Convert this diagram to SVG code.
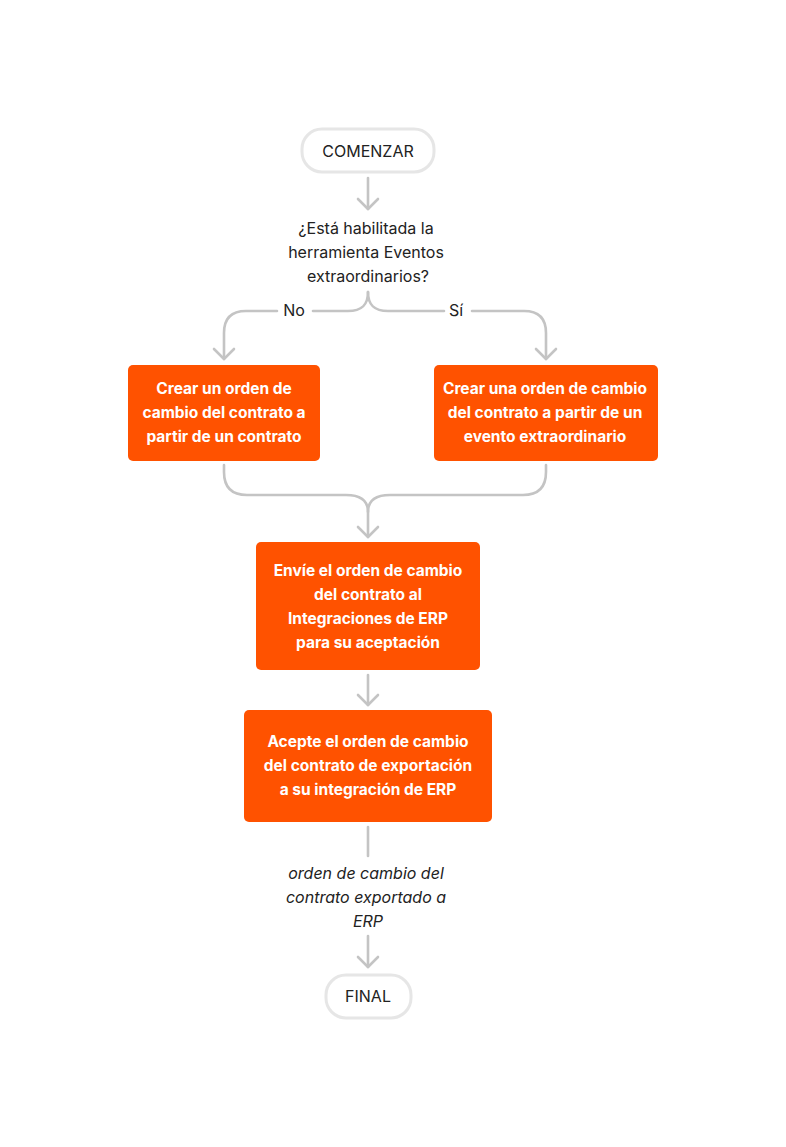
<svg xmlns="http://www.w3.org/2000/svg" width="786" height="1147" viewBox="0 0 786 1147">
<style>
  .term{fill:#ffffff;stroke:#e6e6e6;stroke-width:3}
  .proc{fill:#ff5200}
  .t{font-family:Inter,"Liberation Sans",sans-serif;font-size:16px;fill:#222222;text-anchor:middle}
  .w{font-family:Inter,"Liberation Sans",sans-serif;font-size:15.5px;font-weight:700;fill:#ffffff;text-anchor:middle}
  .i{font-style:italic}
  .c{fill:none;stroke:#c4c4c4;stroke-width:2.6;stroke-linecap:round}
</style>
<defs>
  <marker id="arr" markerUnits="userSpaceOnUse" markerWidth="24" markerHeight="24" viewBox="-12 -12 24 24" refX="0" refY="0" orient="auto">
    <path d="M-10,-10 L0,0 L-10,10" fill="none" stroke="#c4c4c4" stroke-width="2.6" stroke-linecap="round" stroke-linejoin="round"/>
  </marker>
</defs>
<rect width="786" height="1147" fill="#ffffff"/>
<g id="connectors">
  <path class="c" d="M368,178 L368,209" marker-end="url(#arr)"/>
  <path class="c" d="M368,292 C368,305 362,311 348,311 L313,311"/>
  <path class="c" d="M277,311 L246,311 Q224,311 224,333 L224,359" marker-end="url(#arr)"/>
  <path class="c" d="M368,292 C368,305 374,311 388,311 L444,311"/>
  <path class="c" d="M472,311 L524,311 Q546,311 546,333 L546,359" marker-end="url(#arr)"/>
  <path class="c" d="M224,465 L224,472 Q224,495 247,495 L346,495 C362,495 368,502 368,512 L368,537" marker-end="url(#arr)"/>
  <path class="c" d="M546,465 L546,472 Q546,495 523,495 L390,495 C374,495 368,502 368,512"/>
  <path class="c" d="M368,675 L368,705" marker-end="url(#arr)"/>
  <path class="c" d="M368,827 L368,856"/>
  <path class="c" d="M368,936 L368,967" marker-end="url(#arr)"/>
</g>
<g id="start">
  <rect class="term" x="302" y="129" width="132" height="43" rx="20"/>
  <text class="t" x="368" y="157">COMENZAR</text>
</g>
<g id="decision">
  <text class="t" x="366" y="234">¿Está habilitada la</text>
  <text class="t" x="366" y="258">herramienta Eventos</text>
  <text class="t" x="368" y="282">extraordinarios?</text>
  <text class="t" x="294" y="316">No</text>
  <text class="t" x="456" y="316">Sí</text>
</g>
<g id="create-contract">
  <rect class="proc" x="128" y="365" width="192" height="96" rx="5"/>
  <text class="w" x="224" y="394">Crear un orden de</text>
  <text class="w" x="224" y="418">cambio del contrato a</text>
  <text class="w" x="224" y="442">partir de un contrato</text>
</g>
<g id="create-event">
  <rect class="proc" x="434" y="365" width="224" height="96" rx="5"/>
  <text class="w" x="545" y="394">Crear una orden de cambio</text>
  <text class="w" x="545" y="418">del contrato a partir de un</text>
  <text class="w" x="545" y="442">evento extraordinario</text>
</g>
<g id="send">
  <rect class="proc" x="256" y="542" width="224" height="128" rx="5"/>
  <text class="w" x="368" y="576">Envíe el orden de cambio</text>
  <text class="w" x="368" y="600">del contrato al</text>
  <text class="w" x="368" y="624">Integraciones de ERP</text>
  <text class="w" x="368" y="648">para su aceptación</text>
</g>
<g id="accept">
  <rect class="proc" x="244" y="710" width="248" height="112" rx="5"/>
  <text class="w" x="368" y="747">Acepte el orden de cambio</text>
  <text class="w" x="368" y="771">del contrato de exportación</text>
  <text class="w" x="368" y="795">a su integración de ERP</text>
</g>
<g id="exported">
  <text class="t i" x="366" y="879">orden de cambio del</text>
  <text class="t i" x="366" y="903">contrato exportado a</text>
  <text class="t i" x="368" y="927">ERP</text>
</g>
<g id="end">
  <rect class="term" x="326" y="975" width="85" height="43" rx="20"/>
  <text class="t" x="368" y="1002">FINAL</text>
</g>
</svg>
